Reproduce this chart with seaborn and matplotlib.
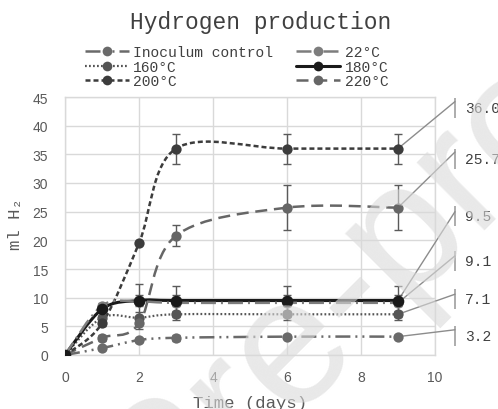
import numpy as np
import pandas as pd
import matplotlib
matplotlib.use("Agg")
import matplotlib.pyplot as plt
import seaborn as sns
from matplotlib.path import Path
from matplotlib.patches import PathPatch
from matplotlib.lines import Line2D

# ---------------- data ----------------
days = [0, 1, 2, 3, 6, 9]
series_names = ["Inoculum control", "22°C", "160°C", "180°C", "200°C", "220°C"]
h2_control = [0, 1.2, 2.6, 3.0, 3.2, 3.2]
h2_22 = [0, 8.6, 9.3, 9.1, 9.1, 9.1]
h2_160 = [0, 6.5, 6.5, 7.1, 7.1, 7.1]
h2_180 = [0, 8.0, 9.5, 9.5, 9.5, 9.5]
h2_200 = [0, 5.5, 19.5, 36.0, 36.0, 36.0]
h2_220 = [0, 3.0, 5.5, 20.8, 25.7, 25.7]
err_control = [0, 0.3, 0.4, 0.5, 0.3, 0.3]
err_22 = [0, 0.5, 3.0, 3.0, 3.0, 3.0]
err_160 = [0, 0.5, 1.0, 0.5, 0.5, 0.5]
err_180 = [0, 0.5, 1.0, 1.0, 1.0, 1.0]
err_200 = [0, 0.5, 0.0, 2.6, 2.6, 2.6]
err_220 = [0, 0.5, 1.0, 1.8, 3.9, 3.9]
x_ticks = [0, 2, 4, 6, 8, 10]
y_ticks = [0, 5, 10, 15, 20, 25, 30, 35, 40, 45]

values = [h2_control, h2_22, h2_160, h2_180, h2_200, h2_220]
errors = [err_control, err_22, err_160, err_180, err_200, err_220]

rows = []
for name, vals, errs in zip(series_names, values, errors):
    for d, v, e in zip(days, vals, errs):
        rows.append({"day": d, "h2": v, "err": e, "series": name})
df = pd.DataFrame(rows)

# ---------------- styles ----------------
colors = {"Inoculum control": "#6a6a6a", "22°C": "#7d7d7d", "160°C": "#555555",
          "180°C": "#1a1a1a", "200°C": "#3c3c3c", "220°C": "#666666"}
dashes = {"Inoculum control": (0, (6, 2, 0.8, 2, 0.8, 2)), "22°C": (0, (6, 2, 0.8, 2)),
          "160°C": (0, (0.8, 1.0)), "180°C": "-", "200°C": (0, (2.0, 1.2)),
          "220°C": (0, (4.8, 2.7))}
lwidths = {"Inoculum control": 1.8, "22°C": 1.8, "160°C": 1.6, "180°C": 2.2,
           "200°C": 1.8, "220°C": 1.8}
msizes = {"Inoculum control": 55, "22°C": 55, "160°C": 55, "180°C": 70,
          "200°C": 55, "220°C": 55}
draw_order = ["Inoculum control", "160°C", "220°C", "200°C", "180°C", "22°C"]
marker_z = {"Inoculum control": 10, "160°C": 11, "220°C": 12, "200°C": 13,
            "22°C": 14, "180°C": 15}

mono = ["Liberation Mono", "DejaVu Sans Mono"]
sns.set_theme(style="white")
plt.rcParams["font.family"] = ["Liberation Sans", "DejaVu Sans"]

fig = plt.figure(figsize=(4.98, 4.10), dpi=100)
ax = fig.add_axes([65 / 498, 1 - 356 / 410, 370 / 498, 258 / 410])
ax.set_facecolor("none")


def smooth_path(xs, ys):
    pts = np.column_stack([xs, ys]).astype(float)
    n = len(pts)
    verts = [pts[0]]
    codes = [Path.MOVETO]
    for i in range(n - 1):
        p0 = pts[i - 1] if i > 0 else pts[i]
        p1 = pts[i]
        p2 = pts[i + 1]
        p3 = pts[i + 2] if i + 2 < n else pts[i + 1]
        verts += [p1 + (p2 - p0) / 6, p2 - (p3 - p1) / 6, p2]
        codes += [Path.CURVE4] * 3
    return Path(verts, codes)


for k, name in enumerate(draw_order):
    sub = df[df.series == name]
    z = 3 + k * 0.5
    patch = PathPatch(smooth_path(sub.day.values, sub.h2.values), facecolor="none",
                      edgecolor=colors[name], linewidth=lwidths[name],
                      linestyle=dashes[name], zorder=z, capstyle="butt")
    ax.add_patch(patch)
    ax.errorbar(sub.day, sub.h2, yerr=sub.err, fmt="none", ecolor="#5a5a5a",
                elinewidth=1.0, capsize=3, capthick=1.0, zorder=z + 0.1)
    sns.scatterplot(data=sub, x="day", y="h2", ax=ax, color=colors[name],
                    s=msizes[name], edgecolor=colors[name], linewidth=0,
                    zorder=marker_z[name], legend=False)

ax.set_xlim(0, 10)
ax.set_ylim(0, 45)
ax.set_xticks(x_ticks)
ax.set_yticks(y_ticks)
ax.grid(True, color="#d9d9d9", linewidth=1.0)
ax.set_axisbelow(True)
for s in ax.spines.values():
    s.set_color("#d9d9d9")
    s.set_linewidth(1.0)
ax.tick_params(axis="both", length=0, labelsize=10, labelcolor="#595959")
ax.tick_params(axis="y", pad=12)
ax.tick_params(axis="x", pad=11)
ax.set_xlabel("Time (days)", family=mono, fontsize=12.5, color="#595959")
ax.set_ylabel("ml H₂", family=mono, fontsize=12.5, color="#595959")
ax.xaxis.set_label_coords(0.5, -0.155)
ax.yaxis.set_label_coords(-0.113, 0.51)

# ---------------- callout labels ----------------
label_series = ["200°C", "220°C", "180°C", "22°C", "160°C", "Inoculum control"]
label_text_y = [43.1, 34.2, 24.3, 16.4, 9.8, 3.3]
label_leader_y = [44.2, 35.4, 25.0, 17.3, 10.6, 4.4]
bar_x = 10.54
for name, ty, ly in zip(label_series, label_text_y, label_leader_y):
    sub = df[df.series == name]
    xl, yl = sub.day.values[-1], sub.h2.values[-1]
    ax.annotate("", xy=(xl, yl), xytext=(bar_x, ly), xycoords="data",
                textcoords="data", annotation_clip=False,
                arrowprops=dict(arrowstyle="-", color="#8c8c8c", lw=1.0,
                                shrinkA=0, shrinkB=0))
    ax.vlines(bar_x, ty - 1.75, ty + 1.75, color="#a6a6a6", lw=1.3, clip_on=False)
    ax.text(bar_x + 0.27, ty, f"{yl:.1f}", family=mono, fontsize=10.5,
            color="#404040", va="center", ha="left", clip_on=False)

# ---------------- title & legend ----------------
fig.text(261 / 498, 1 - 22 / 410, "Hydrogen production", family=mono,
         fontsize=16.5, color="#404040", ha="center", va="center")

handles = []
for name in series_names:
    handles.append(Line2D([], [], color=colors[name], linestyle=dashes[name],
                          linewidth=lwidths[name], marker="o", markersize=7,
                          markeredgewidth=0))
order = [0, 2, 4, 1, 3, 5]
leg = fig.legend([handles[i] for i in order], [series_names[i] for i in order],
                 loc="upper left", bbox_to_anchor=(85 / 498, 1 - 46 / 410), ncol=2,
                 frameon=False, prop={"family": mono, "size": 10.5},
                 handlelength=3.0, handletextpad=0.3, columnspacing=1.6,
                 labelspacing=0.05, borderpad=0, borderaxespad=0)
for t in leg.get_texts():
    t.set_color("#404040")

# ---------------- watermark ----------------
fig.text(160 / 498, 1 - 540 / 410, "Pre-proof", rotation=45, rotation_mode="anchor",
         ha="left", va="baseline", fontsize=130, color="#dadada", alpha=0.6,
         zorder=20, family=["Liberation Sans"])

fig.savefig("out.png", dpi=100)
